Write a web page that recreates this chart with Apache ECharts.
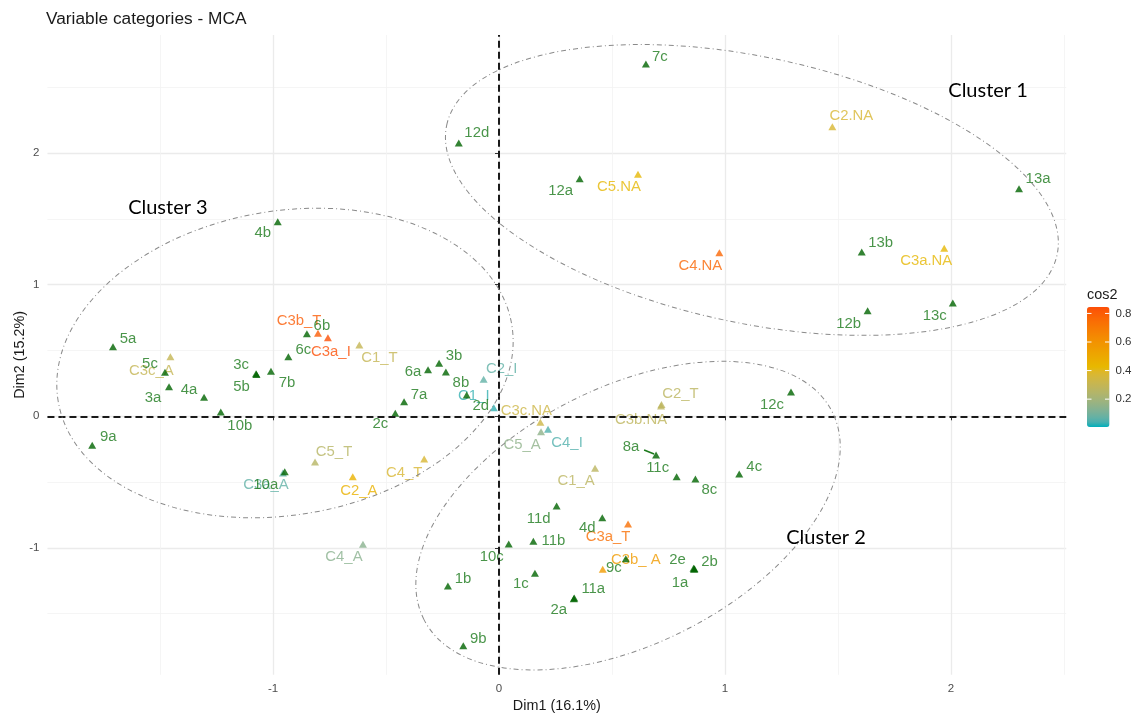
<!DOCTYPE html>
<html><head><meta charset="utf-8">
<script src="https://cdn.jsdelivr.net/npm/echarts/dist/echarts.min.js"></script>
<style>html,body{margin:0;padding:0;background:#fff}#c{width:1137px;height:713px}</style>
</head><body><div id="c"></div>
<script>
// ---------- data ----------
const supNames = ['7c','12d','12a','13a','13b','12b','13c','4b','5a','5c','3a','4a','10b','9a','3c','5b','7b','6c','6b','6a','3b','8b','7a','2c','2d','12c','8a','11c','8c','4c','11d','4d','10c','11b','9c','2e','2b','1a','1c','11a','2a','1b','9b','10a'];
const supX = [0.650,-0.178,0.357,2.301,1.605,1.631,2.008,-0.979,-1.708,-1.478,-1.460,-1.305,-1.231,-1.800,-1.075,-1.073,-1.009,-0.932,-0.850,-0.314,-0.265,-0.235,-0.420,-0.459,-0.143,1.292,0.695,0.786,0.869,1.063,0.255,0.457,0.043,0.152,0.561,0.861,0.865,0.863,0.159,0.333,0.331,-0.226,-0.158,-0.948];
const supY = [2.677,2.077,1.805,1.729,1.248,0.802,0.861,1.479,0.529,0.334,0.225,0.144,0.033,-0.220,0.324,0.317,0.342,0.453,0.628,0.354,0.403,0.337,0.111,0.023,0.162,0.185,-0.294,-0.459,-0.476,-0.438,-0.682,-0.771,-0.970,-0.950,-1.082,-1.154,-1.158,-1.162,-1.193,-1.381,-1.387,-1.290,-1.743,-0.421];

const actNames = ['C3b_T','C3a_I','C1_T','C2_I','C1_I','C3c.NA','C5_A','C4_I','C2_T','C3b.NA','C1_A','C3a_T','C3b_ A','C4_A','C5_T','C2_A','C4_T','C3a_A','C3c_A','C3a.NA','C2.NA','C5.NA','C4.NA'];
const actX = [-0.801,-0.757,-0.618,-0.068,-0.023,0.183,0.186,0.217,0.719,0.717,0.425,0.571,0.459,-0.602,-0.814,-0.647,-0.331,-0.956,-1.454,1.970,1.475,0.615,0.975];
const actY = [0.631,0.597,0.542,0.281,0.065,-0.046,-0.117,-0.099,0.090,0.078,-0.395,-0.818,-1.163,-0.973,-0.347,-0.459,-0.324,-0.431,0.453,1.277,2.201,1.839,1.243];
const actCos2 = [0.80,0.84,0.30,0.07,0.03,0.33,0.15,0.05,0.27,0.28,0.27,0.74,0.56,0.14,0.26,0.46,0.37,0.07,0.30,0.42,0.37,0.42,0.77];

const legendTicks = [0.2,0.4,0.6,0.8];
const cos2Range = [0.005,0.845];
const xRange = [-1.998,2.51];
const yRange = [-1.964,2.898];

// ---------- layout / style (not data) ----------
const labelOffset = {
 '7c':[14,-7],'12d':[18,-10],'12a':[-19,12],'13a':[19,-10],'13b':[19,-9],'12b':[-19,13],'13c':[-18,13],
 '4b':[-15,11],'5a':[15,-8],'5c':[-15,-8],'3a':[-16,11],'4a':[-15,-7],'10b':[19,14],'9a':[16,-8],
 '3c':[-15,-9],'5b':[-15,12],'7b':[16,12],'6c':[15,-7],'6b':[15,-8],'6a':[-15,2],'3b':[15,-7],'8b':[15,11],
 '7a':[15,-7],'2c':[-15,11],'2d':[14,11],'12c':[-19,13],'8a':[-25,-8],'11c':[-19,-9],'8c':[14,11],'4c':[15,-7],
 '11d':[-18,13],'4d':[-15,10],'10c':[-17,13],'11b':[20,0],'9c':[-12,9],'2e':[-16,-8],'2b':[15,-7],'1a':[-14,14],
 '1c':[-14,11],'11a':[19,-9],'2a':[-15,11],'1b':[15,-7],'9b':[15,-7],'10a':[-19,13],
 'C3b_T':[-19,-12],'C3a_I':[3,14],'C1_T':[20,13],'C2_I':[18,-10],'C1_I':[-20,-12],'C3c.NA':[-14,-11],
 'C5_A':[-19,13],'C4_I':[19,14],'C2_T':[19,-11],'C3b.NA':[-20,14],'C1_A':[-19,13],'C3a_T':[-20,13],
 'C3b_ A':[33,-9],'C4_A':[-19,13],'C5_T':[19,-10],'C2_A':[6,14],'C4_T':[-20,14],'C3a_A':[-17,12],
 'C3c_A':[-19,14],'C3a.NA':[-18,13],'C2.NA':[19,-11],'C5.NA':[-19,13],'C4.NA':[-19,13]
};
const FONT = 'Liberation Sans, Arial, sans-serif';

// ggplot-like gradient (interpolated in CIELAB)
function hexToRgb(h){h=h.replace('#','');return [0,2,4].map(i=>parseInt(h.slice(i,i+2),16));}
function toLin(c){c/=255;return c<=0.04045?c/12.92:Math.pow((c+0.055)/1.055,2.4);}
function fromLin(c){const v=c<=0.0031308?12.92*c:1.055*Math.pow(c,1/2.4)-0.055;return Math.round(Math.min(1,Math.max(0,v))*255);}
const WX=0.95047,WY=1,WZ=1.08883;
function ff(t){return t>0.008856?Math.cbrt(t):7.787*t+16/116;}
function fi(t){const t3=t*t*t;return t3>0.008856?t3:(t-16/116)/7.787;}
function rgbToLab(rgb){const [r,g,b]=rgb.map(toLin);const X=(0.4124*r+0.3576*g+0.1805*b)/WX,Y=(0.2126*r+0.7152*g+0.0722*b)/WY,Z=(0.0193*r+0.1192*g+0.9505*b)/WZ;const fx=ff(X),fy=ff(Y),fz=ff(Z);return [116*fy-16,500*(fx-fy),200*(fy-fz)];}
function labToHex(l){const fy=(l[0]+16)/116,fx=fy+l[1]/500,fz=fy-l[2]/200;const X=fi(fx)*WX,Y=fi(fy)*WY,Z=fi(fz)*WZ;const r=3.2406*X-1.5372*Y-0.4986*Z,g=-0.9689*X+1.8758*Y+0.0415*Z,b=0.0557*X-0.2040*Y+1.0570*Z;return '#'+[r,g,b].map(c=>fromLin(c).toString(16).padStart(2,'0')).join('');}
const gradCols = ['#00AFBB','#E7B800','#FC4E07'].map(h=>rgbToLab(hexToRgb(h)));
const gradStops = [];
for(let i=0;i<=24;i++){const t=i/24;let a,b,s;if(t<=0.5){a=gradCols[0];b=gradCols[1];s=t*2;}else{a=gradCols[1];b=gradCols[2];s=(t-0.5)*2;}gradStops.push(labToHex([0,1,2].map(k=>a[k]+(b[k]-a[k])*s)));}

const supData = supNames.map((n,i)=>({name:n,value:[supX[i],supY[i]],label:{offset:labelOffset[n]||[12,-8]}}));
const actData = actNames.map((n,i)=>({name:n,value:[actX[i],actY[i],actCos2[i]],label:{offset:labelOffset[n]||[12,-8]}}));

const UX = 226, UY = 131.6;
const GL = 499 - (-xRange[0])*UX, GT = 416.3 - yRange[1]*UY;
const chart = echarts.init(document.getElementById('c'), null, {renderer:'canvas'});
const axisCommon = {
  type:'value', splitNumber:5,
  axisLine:{show:false},
  axisTick:{show:true,length:4,lineStyle:{color:'#333',width:1}},
  axisLabel:{showMinLabel:false,showMaxLabel:false,color:'#4D4D4D',fontSize:11.5,fontFamily:FONT},
  splitLine:{show:true,showMinLine:false,showMaxLine:false,lineStyle:{color:'#EBEBEB',width:1.3}},
  minorTick:{show:false,splitNumber:2},
  minorSplitLine:{show:true,lineStyle:{color:'#F3F3F3',width:0.8}},
  nameLocation:'middle', nameMoveOverlap:false,
  nameTextStyle:{color:'#1a1a1a',fontSize:14.4,fontFamily:FONT}
};
chart.setOption({
  animation:false,
  backgroundColor:'#fff',
  title:{text:'Variable categories - MCA',left:46,top:11,padding:0,textStyle:{fontSize:17.3,fontWeight:'normal',color:'#1a1a1a',fontFamily:FONT}},
  grid:{left:GL,top:GT,width:(xRange[1]-xRange[0])*UX,height:(yRange[1]-yRange[0])*UY,containLabel:false,outerBoundsMode:'none'},
  xAxis:Object.assign({},axisCommon,{min:xRange[0],max:xRange[1],name:'Dim1 (16.1%)',nameGap:24,axisLabel:Object.assign({},axisCommon.axisLabel,{margin:8})}),
  yAxis:Object.assign({},axisCommon,{min:yRange[0],max:yRange[1],name:'Dim2 (15.2%)',nameGap:20,axisLabel:Object.assign({},axisCommon.axisLabel,{margin:8})}),
  visualMap:{type:'continuous',seriesIndex:0,dimension:2,min:cos2Range[0],max:cos2Range[1],inRange:{color:gradStops},
    calculable:false,text:null,itemWidth:22.5,itemHeight:120,left:1087,top:307,padding:0,hoverLink:false,showLabel:false},
  series:[
    {type:'scatter',name:'active',symbol:'triangle',symbolSize:[8,7],data:actData,z:2,
     label:{show:true,position:'inside',formatter:p=>p.name,fontSize:14.9,fontFamily:FONT,color:'inherit'},
     markLine:{silent:true,symbol:'none',label:{show:false},animation:false,
       lineStyle:{color:'#1a1a1a',width:2,type:[7,4]},data:[{xAxis:0},{yAxis:0}]}},
    {type:'scatter',name:'sup',symbol:'triangle',symbolSize:[8,7],data:supData,z:3,
     itemStyle:{color:'#006400'},
     label:{show:true,position:'inside',formatter:p=>p.name,fontSize:14.9,fontFamily:FONT,color:'#1d7a1d'}}
  ]
});

// annotations: ellipses and cluster names (anchored in data space)
const clusters = [
  {name:'Cluster 1', text:[2.164,2.472], c:[1.119,1.720], rx:312, ry:133, rot:-12},
  {name:'Cluster 2', text:[1.447,-0.924], c:[0.571,-0.755], rx:229, ry:128, rot:27},
  {name:'Cluster 3', text:[-1.465,1.583], c:[-0.947,0.405], rx:230, ry:152, rot:9.7}
];
const g = [];
clusters.forEach(cl=>{
  const p = chart.convertToPixel({gridIndex:0}, cl.c);
  g.push({type:'ellipse',x:p[0],y:p[1],rotation:cl.rot*Math.PI/180,silent:true,z:10,
    shape:{cx:0,cy:0,rx:cl.rx,ry:cl.ry},style:{fill:null,stroke:'#8a8a8a',lineWidth:1,lineDash:[5,3,1,3]}});
  const t = chart.convertToPixel({gridIndex:0}, cl.text);
  g.push({type:'text',x:t[0],y:t[1],silent:true,z:11,style:{text:cl.name,fill:'#000',font:'20px Lato, sans-serif',align:'center',verticalAlign:'middle',textAlign:'center',textVerticalAlign:'middle'}});
});
// leader segment for 8a
const i8a = supNames.indexOf('8a');
const p8a = chart.convertToPixel({gridIndex:0},[supX[i8a],supY[i8a]]);
g.push({type:'line',silent:true,z:4,shape:{x1:p8a[0]-2,y1:p8a[1]-1,x2:p8a[0]-12,y2:p8a[1]-5},style:{stroke:'#1d7a1d',lineWidth:1.5}});
// colourbar title, ticks and labels
const barTop=307, barH=120, barL=1087, barW=22.5;
g.push({type:'text',x:barL,y:295,silent:true,style:{text:'cos2',fill:'#1a1a1a',font:'14.4px '+FONT,align:'left',verticalAlign:'middle',textAlign:'left',textVerticalAlign:'middle'}});
legendTicks.forEach(v=>{
  const y = barTop + barH*(cos2Range[1]-v)/(cos2Range[1]-cos2Range[0]);
  g.push({type:'line',silent:true,z:20,shape:{x1:barL,y1:y,x2:barL+4.5,y2:y},style:{stroke:'#fff',lineWidth:1}});
  g.push({type:'line',silent:true,z:20,shape:{x1:barL+barW-4.5,y1:y,x2:barL+barW,y2:y},style:{stroke:'#fff',lineWidth:1}});
  g.push({type:'text',x:barL+barW+6,y:y,silent:true,style:{text:v.toFixed(1),fill:'#333',font:'11.5px '+FONT,align:'left',verticalAlign:'middle',textAlign:'left',textVerticalAlign:'middle'}});
});
chart.setOption({graphic:g});
</script></body></html>
